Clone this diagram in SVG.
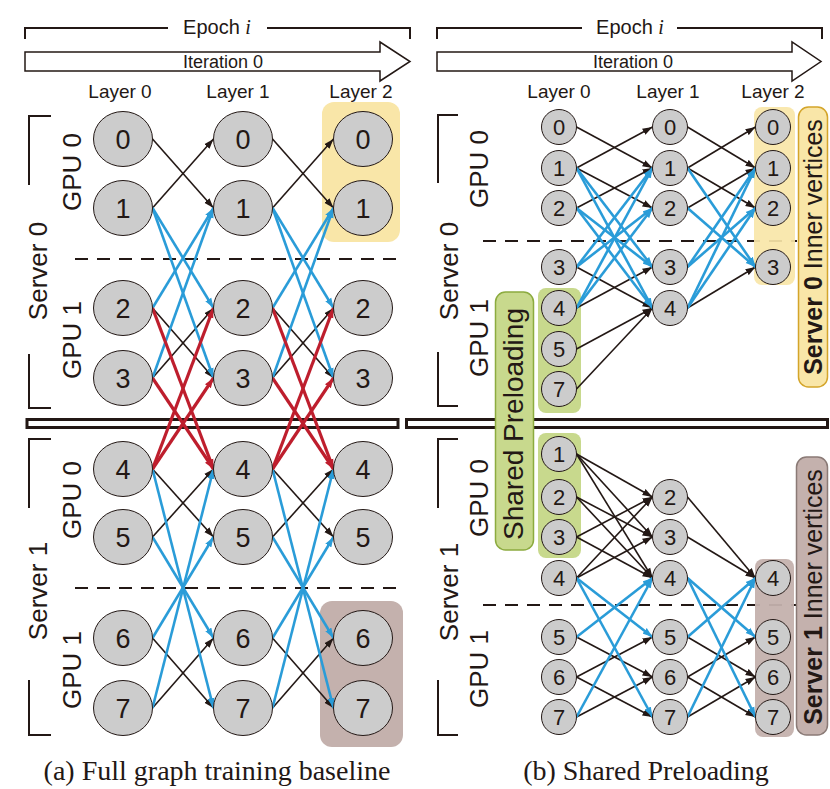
<svg xmlns="http://www.w3.org/2000/svg" width="830" height="789" viewBox="0 0 830 789">
<defs>
<style>
.t{font-family:"Liberation Sans",Arial,sans-serif;fill:#231815}
.cap{font-family:"Liberation Serif","Times New Roman",serif;font-size:28px;fill:#231815;text-anchor:middle}
.nl{fill:#cccccc;stroke:#231815;stroke-width:1}
.nt{font-family:"Liberation Sans",Arial,sans-serif;font-size:27px;fill:#231815;text-anchor:middle}
.ns{font-family:"Liberation Sans",Arial,sans-serif;font-size:22px;fill:#231815;text-anchor:middle}
.bk{stroke:#231815;stroke-width:1.6;fill:none;marker-end:url(#ak)}
.bl{stroke:#2a9cd8;stroke-width:2.6;fill:none;marker-end:url(#ab)}
.rd{stroke:#be1e2d;stroke-width:3.2;fill:none;marker-end:url(#ar)}
.br{stroke:#231815;stroke-width:2;fill:none}
.dash{stroke:#231815;stroke-width:2;stroke-dasharray:13 9;fill:none}
.lab{font-family:"Liberation Sans",Arial,sans-serif;font-size:26px;fill:#231815;text-anchor:middle}
.lay{font-family:"Liberation Sans",Arial,sans-serif;font-size:19px;fill:#231815;text-anchor:middle}
</style>
<marker id="ak" markerUnits="userSpaceOnUse" markerWidth="10" markerHeight="8" refX="10" refY="4" orient="auto"><path d="M0,0.5 L10,4 L0,7.5 z" fill="#231815"/></marker>
<marker id="ab" markerUnits="userSpaceOnUse" markerWidth="10" markerHeight="8" refX="10" refY="4" orient="auto"><path d="M0,0.5 L10,4 L0,7.5 z" fill="#2a9cd8"/></marker>
<marker id="ar" markerUnits="userSpaceOnUse" markerWidth="10" markerHeight="8" refX="10" refY="4" orient="auto"><path d="M0,0.5 L10,4 L0,7.5 z" fill="#be1e2d"/></marker>
</defs>
<rect width="830" height="789" fill="#ffffff"/>

<g id="header-left">
<polyline class="br" points="25,39 25,28 168,28" stroke-width="2.5"/>
<polyline class="br" points="267,28 410,28 410,39" stroke-width="2.5"/>
<text class="t" x="217" y="34" font-size="20" text-anchor="middle">Epoch <tspan font-family="Liberation Serif,serif" font-style="italic">i</tspan></text>
<polygon points="25,52 380,52 380,42 410,61.5 380,81 380,71 25,71" fill="#fff" stroke="#231815" stroke-width="1.5"/>
<text class="t" x="223" y="68" font-size="18" text-anchor="middle">Iteration 0</text>
<text class="lay" x="120" y="98">Layer 0</text>
<text class="lay" x="238" y="98">Layer 1</text>
<text class="lay" x="361" y="98">Layer 2</text>
</g>
<g id="header-right">
<polyline class="br" points="437,39 437,28 582,28" stroke-width="2.5"/>
<polyline class="br" points="677,28 822,28 822,39" stroke-width="2.5"/>
<text class="t" x="630" y="34" font-size="20" text-anchor="middle">Epoch <tspan font-family="Liberation Serif,serif" font-style="italic">i</tspan></text>
<polygon points="437,52 792,52 792,42 821,61.5 792,81 792,71 437,71" fill="#fff" stroke="#231815" stroke-width="1.5"/>
<text class="t" x="633" y="68" font-size="18" text-anchor="middle">Iteration 0</text>
<text class="lay" x="559" y="98">Layer 0</text>
<text class="lay" x="668" y="98">Layer 1</text>
<text class="lay" x="773" y="98">Layer 2</text>
</g>

<g id="left-highlights">
<rect x="322" y="102" width="78" height="140" rx="12" fill="#f9e6a8"/>
<rect x="320" y="601" width="83" height="146" rx="12" fill="#c4b1ad"/>
</g>
<g id="left-separators">
<line class="dash" x1="75" y1="259" x2="396" y2="259"/>
<line class="dash" x1="75" y1="588" x2="396" y2="588"/>
<rect x="27" y="419.5" width="371" height="8" fill="#fff" stroke="#231815" stroke-width="3"/>
</g>
<g id="left-labels">
<polyline class="br" points="51,116 29,116 29,185"/>
<polyline class="br" points="29,354 29,408 51,408"/>
<polyline class="br" points="51,439 29,439 29,508"/>
<polyline class="br" points="29,680 29,735 51,735"/>
<text class="lab" transform="translate(47,271) rotate(-90)">Server 0</text>
<text class="lab" transform="translate(47,591) rotate(-90)">Server 1</text>
<text class="lab" transform="translate(81,172) rotate(-90)">GPU 0</text>
<text class="lab" transform="translate(81,340) rotate(-90)">GPU 1</text>
<text class="lab" transform="translate(81,500) rotate(-90)">GPU 0</text>
<text class="lab" transform="translate(81,670) rotate(-90)">GPU 1</text>
</g>

<g id="right-separators">
<line class="dash" x1="483" y1="241" x2="797" y2="241" stroke-dasharray="12 10"/>
<line class="dash" x1="483" y1="605" x2="797" y2="605" stroke-dasharray="12 10"/>
<rect x="406.5" y="419.5" width="421" height="8" fill="#fff" stroke="#231815" stroke-width="3"/>
</g>
<g id="right-highlights">
<rect x="754" y="107" width="41" height="178" rx="8" fill="#f9e6a8" fill-opacity="0.92"/>
<rect x="755" y="559" width="39" height="178" rx="8" fill="#c4b1ad" fill-opacity="0.95"/>
<rect x="538" y="288" width="43" height="125" rx="8" fill="#c8d98d"/>
<rect x="538" y="433" width="43" height="125" rx="8" fill="#c8d98d"/>
</g>
<g id="shared-preloading">
<rect x="495.5" y="292" width="38" height="258" rx="10" fill="#c8d98d" stroke="#8cab3f" stroke-width="1.5"/>
<text class="t" font-size="28" text-anchor="middle" transform="translate(523,424) rotate(-90)">Shared Preloading</text>
</g>
<g id="server0-inner">
<rect x="798.5" y="107" width="29" height="280" rx="10" fill="#f9e6a8" stroke="#d4a52a" stroke-width="1.5"/>
<text class="t" font-size="25" text-anchor="middle" transform="translate(822,247) rotate(-90)"><tspan font-weight="bold">Server 0</tspan> Inner vertices</text>
</g>
<g id="server1-inner">
<rect x="796.5" y="457" width="31" height="278" rx="10" fill="#c4b1ad" stroke="#8a7a76" stroke-width="1.5"/>
<text class="t" font-size="25" text-anchor="middle" transform="translate(822,597) rotate(-90)"><tspan font-weight="bold">Server 1</tspan> Inner vertices</text>
</g>
<g id="right-labels">
<polyline class="br" points="458,115 438,115 438,183"/>
<polyline class="br" points="438,352 438,406 458,406"/>
<polyline class="br" points="458,439 438,439 438,508"/>
<polyline class="br" points="438,680 438,735 458,735"/>
<text class="lab" transform="translate(458,271) rotate(-90)">Server 0</text>
<text class="lab" transform="translate(458,592) rotate(-90)">Server 1</text>
<text class="lab" transform="translate(488,169) rotate(-90)">GPU 0</text>
<text class="lab" transform="translate(488,338) rotate(-90)">GPU 1</text>
<text class="lab" transform="translate(488,498) rotate(-90)">GPU 0</text>
<text class="lab" transform="translate(488,669) rotate(-90)">GPU 1</text>
</g>

<g id="connectors">
<line class="bk" x1="152.5" y1="139" x2="213.5" y2="208"/>
<line class="bk" x1="152.5" y1="208" x2="213.5" y2="139"/>
<line class="bk" x1="152.5" y1="308" x2="213.5" y2="378"/>
<line class="bk" x1="152.5" y1="378" x2="213.5" y2="308"/>
<line class="bk" x1="152.5" y1="469" x2="213.5" y2="537"/>
<line class="bk" x1="152.5" y1="537" x2="213.5" y2="469"/>
<line class="bk" x1="152.5" y1="638" x2="213.5" y2="708"/>
<line class="bk" x1="152.5" y1="708" x2="213.5" y2="638"/>
<line class="bk" x1="272.5" y1="139" x2="333.5" y2="208"/>
<line class="bk" x1="272.5" y1="208" x2="333.5" y2="139"/>
<line class="bk" x1="272.5" y1="308" x2="333.5" y2="378"/>
<line class="bk" x1="272.5" y1="378" x2="333.5" y2="308"/>
<line class="bk" x1="272.5" y1="469" x2="333.5" y2="537"/>
<line class="bk" x1="272.5" y1="537" x2="333.5" y2="469"/>
<line class="bk" x1="272.5" y1="638" x2="333.5" y2="708"/>
<line class="bk" x1="272.5" y1="708" x2="333.5" y2="638"/>
<line class="bl" x1="152.5" y1="208" x2="213.5" y2="308"/>
<line class="bl" x1="152.5" y1="208" x2="213.5" y2="378"/>
<line class="bl" x1="152.5" y1="308" x2="213.5" y2="208"/>
<line class="bl" x1="152.5" y1="378" x2="213.5" y2="208"/>
<line class="bl" x1="152.5" y1="469" x2="213.5" y2="708"/>
<line class="bl" x1="152.5" y1="537" x2="213.5" y2="638"/>
<line class="bl" x1="152.5" y1="638" x2="213.5" y2="537"/>
<line class="bl" x1="152.5" y1="708" x2="213.5" y2="469"/>
<line class="bl" x1="272.5" y1="208" x2="333.5" y2="308"/>
<line class="bl" x1="272.5" y1="208" x2="333.5" y2="378"/>
<line class="bl" x1="272.5" y1="308" x2="333.5" y2="208"/>
<line class="bl" x1="272.5" y1="378" x2="333.5" y2="208"/>
<line class="bl" x1="272.5" y1="469" x2="333.5" y2="708"/>
<line class="bl" x1="272.5" y1="537" x2="333.5" y2="638"/>
<line class="bl" x1="272.5" y1="638" x2="333.5" y2="537"/>
<line class="bl" x1="272.5" y1="708" x2="333.5" y2="469"/>
<line class="rd" x1="152.5" y1="308" x2="213.5" y2="469"/>
<line class="rd" x1="152.5" y1="378" x2="213.5" y2="469"/>
<line class="rd" x1="152.5" y1="469" x2="213.5" y2="308"/>
<line class="rd" x1="152.5" y1="469" x2="213.5" y2="378"/>
<line class="rd" x1="272.5" y1="308" x2="333.5" y2="469"/>
<line class="rd" x1="272.5" y1="378" x2="333.5" y2="469"/>
<line class="rd" x1="272.5" y1="469" x2="333.5" y2="308"/>
<line class="rd" x1="272.5" y1="469" x2="333.5" y2="378"/>

<line class="bk" x1="576.5" y1="127" x2="652.5" y2="168"/>
<line class="bk" x1="576.5" y1="168" x2="652.5" y2="127"/>
<line class="bk" x1="576.5" y1="168" x2="652.5" y2="208"/>
<line class="bk" x1="576.5" y1="208" x2="652.5" y2="168"/>
<line class="bk" x1="576.5" y1="267" x2="652.5" y2="308"/>
<line class="bk" x1="576.5" y1="308" x2="652.5" y2="267"/>
<line class="bk" x1="576.5" y1="349" x2="652.5" y2="308"/>
<line class="bk" x1="576.5" y1="389" x2="652.5" y2="308"/>
<line class="bl" x1="576.5" y1="168" x2="652.5" y2="267"/>
<line class="bl" x1="576.5" y1="168" x2="652.5" y2="308"/>
<line class="bl" x1="576.5" y1="208" x2="652.5" y2="267"/>
<line class="bl" x1="576.5" y1="208" x2="652.5" y2="308"/>
<line class="bl" x1="576.5" y1="267" x2="652.5" y2="168"/>
<line class="bl" x1="576.5" y1="267" x2="652.5" y2="208"/>
<line class="bl" x1="576.5" y1="308" x2="652.5" y2="168"/>
<line class="bl" x1="576.5" y1="308" x2="652.5" y2="208"/>
<line class="bk" x1="687.5" y1="127" x2="755.5" y2="168"/>
<line class="bk" x1="687.5" y1="168" x2="755.5" y2="127"/>
<line class="bk" x1="687.5" y1="168" x2="755.5" y2="208"/>
<line class="bk" x1="687.5" y1="208" x2="755.5" y2="168"/>
<line class="bk" x1="687.5" y1="308" x2="755.5" y2="267"/>
<line class="bl" x1="687.5" y1="168" x2="755.5" y2="267"/>
<line class="bl" x1="687.5" y1="208" x2="755.5" y2="267"/>
<line class="bl" x1="687.5" y1="267" x2="755.5" y2="168"/>
<line class="bl" x1="687.5" y1="267" x2="755.5" y2="208"/>
<line class="bl" x1="687.5" y1="308" x2="755.5" y2="168"/>
<line class="bl" x1="687.5" y1="308" x2="755.5" y2="208"/>
<line class="bk" x1="576.5" y1="454" x2="652.5" y2="497"/>
<line class="bk" x1="576.5" y1="454" x2="652.5" y2="537"/>
<line class="bk" x1="576.5" y1="454" x2="652.5" y2="578"/>
<line class="bk" x1="576.5" y1="497" x2="652.5" y2="537"/>
<line class="bk" x1="576.5" y1="497" x2="652.5" y2="578"/>
<line class="bk" x1="576.5" y1="537" x2="652.5" y2="497"/>
<line class="bk" x1="576.5" y1="537" x2="652.5" y2="578"/>
<line class="bk" x1="576.5" y1="578" x2="652.5" y2="497"/>
<line class="bk" x1="576.5" y1="578" x2="652.5" y2="537"/>
<line class="bk" x1="576.5" y1="637" x2="652.5" y2="677"/>
<line class="bk" x1="576.5" y1="677" x2="652.5" y2="637"/>
<line class="bk" x1="576.5" y1="677" x2="652.5" y2="717"/>
<line class="bk" x1="576.5" y1="717" x2="652.5" y2="677"/>
<line class="bl" x1="576.5" y1="578" x2="652.5" y2="637"/>
<line class="bl" x1="576.5" y1="578" x2="652.5" y2="717"/>
<line class="bl" x1="576.5" y1="637" x2="652.5" y2="578"/>
<line class="bl" x1="576.5" y1="717" x2="652.5" y2="578"/>
<line class="bk" x1="687.5" y1="497" x2="755.5" y2="578"/>
<line class="bk" x1="687.5" y1="537" x2="755.5" y2="578"/>
<line class="bk" x1="687.5" y1="637" x2="755.5" y2="677"/>
<line class="bk" x1="687.5" y1="677" x2="755.5" y2="637"/>
<line class="bk" x1="687.5" y1="677" x2="755.5" y2="717"/>
<line class="bk" x1="687.5" y1="717" x2="755.5" y2="677"/>
<line class="bl" x1="687.5" y1="578" x2="755.5" y2="637"/>
<line class="bl" x1="687.5" y1="578" x2="755.5" y2="717"/>
<line class="bl" x1="687.5" y1="637" x2="755.5" y2="578"/>
<line class="bl" x1="687.5" y1="717" x2="755.5" y2="578"/>
</g>

<g id="L-l0-0"><ellipse class="nl" cx="123" cy="139" rx="29.5" ry="27.5"/><text class="nt" x="123" y="149">0</text></g>
<g id="L-l0-1"><ellipse class="nl" cx="123" cy="208" rx="29.5" ry="27.5"/><text class="nt" x="123" y="218">1</text></g>
<g id="L-l0-2"><ellipse class="nl" cx="123" cy="308" rx="29.5" ry="27.5"/><text class="nt" x="123" y="318">2</text></g>
<g id="L-l0-3"><ellipse class="nl" cx="123" cy="378" rx="29.5" ry="27.5"/><text class="nt" x="123" y="388">3</text></g>
<g id="L-l0-4"><ellipse class="nl" cx="123" cy="469" rx="29.5" ry="27.5"/><text class="nt" x="123" y="479">4</text></g>
<g id="L-l0-5"><ellipse class="nl" cx="123" cy="537" rx="29.5" ry="27.5"/><text class="nt" x="123" y="547">5</text></g>
<g id="L-l0-6"><ellipse class="nl" cx="123" cy="638" rx="29.5" ry="27.5"/><text class="nt" x="123" y="648">6</text></g>
<g id="L-l0-7"><ellipse class="nl" cx="123" cy="708" rx="29.5" ry="27.5"/><text class="nt" x="123" y="718">7</text></g>
<g id="L-l1-0"><ellipse class="nl" cx="243" cy="139" rx="29.5" ry="27.5"/><text class="nt" x="243" y="149">0</text></g>
<g id="L-l1-1"><ellipse class="nl" cx="243" cy="208" rx="29.5" ry="27.5"/><text class="nt" x="243" y="218">1</text></g>
<g id="L-l1-2"><ellipse class="nl" cx="243" cy="308" rx="29.5" ry="27.5"/><text class="nt" x="243" y="318">2</text></g>
<g id="L-l1-3"><ellipse class="nl" cx="243" cy="378" rx="29.5" ry="27.5"/><text class="nt" x="243" y="388">3</text></g>
<g id="L-l1-4"><ellipse class="nl" cx="243" cy="469" rx="29.5" ry="27.5"/><text class="nt" x="243" y="479">4</text></g>
<g id="L-l1-5"><ellipse class="nl" cx="243" cy="537" rx="29.5" ry="27.5"/><text class="nt" x="243" y="547">5</text></g>
<g id="L-l1-6"><ellipse class="nl" cx="243" cy="638" rx="29.5" ry="27.5"/><text class="nt" x="243" y="648">6</text></g>
<g id="L-l1-7"><ellipse class="nl" cx="243" cy="708" rx="29.5" ry="27.5"/><text class="nt" x="243" y="718">7</text></g>
<g id="L-l2-0"><ellipse class="nl" cx="363" cy="139" rx="29.5" ry="27.5"/><text class="nt" x="363" y="149">0</text></g>
<g id="L-l2-1"><ellipse class="nl" cx="363" cy="208" rx="29.5" ry="27.5"/><text class="nt" x="363" y="218">1</text></g>
<g id="L-l2-2"><ellipse class="nl" cx="363" cy="308" rx="29.5" ry="27.5"/><text class="nt" x="363" y="318">2</text></g>
<g id="L-l2-3"><ellipse class="nl" cx="363" cy="378" rx="29.5" ry="27.5"/><text class="nt" x="363" y="388">3</text></g>
<g id="L-l2-4"><ellipse class="nl" cx="363" cy="469" rx="29.5" ry="27.5"/><text class="nt" x="363" y="479">4</text></g>
<g id="L-l2-5"><ellipse class="nl" cx="363" cy="537" rx="29.5" ry="27.5"/><text class="nt" x="363" y="547">5</text></g>
<g id="L-l2-6"><ellipse class="nl" cx="363" cy="638" rx="29.5" ry="27.5"/><text class="nt" x="363" y="648">6</text></g>
<g id="L-l2-7"><ellipse class="nl" cx="363" cy="708" rx="29.5" ry="27.5"/><text class="nt" x="363" y="718">7</text></g>

<g id="R0-l0-0"><circle class="nl" cx="559" cy="127" r="17.5"/><text class="ns" x="559" y="135">0</text></g>
<g id="R0-l0-1"><circle class="nl" cx="559" cy="168" r="17.5"/><text class="ns" x="559" y="176">1</text></g>
<g id="R0-l0-2"><circle class="nl" cx="559" cy="208" r="17.5"/><text class="ns" x="559" y="216">2</text></g>
<g id="R0-l0-3"><circle class="nl" cx="559" cy="267" r="17.5"/><text class="ns" x="559" y="275">3</text></g>
<g id="R0-l0-4"><circle class="nl" cx="559" cy="308" r="17.5"/><text class="ns" x="559" y="316">4</text></g>
<g id="R0-l0-5"><circle class="nl" cx="559" cy="349" r="17.5"/><text class="ns" x="559" y="357">5</text></g>
<g id="R0-l0-7"><circle class="nl" cx="559" cy="389" r="17.5"/><text class="ns" x="559" y="397">7</text></g>
<g id="R0-l1-0"><circle class="nl" cx="670" cy="127" r="17.5"/><text class="ns" x="670" y="135">0</text></g>
<g id="R0-l1-1"><circle class="nl" cx="670" cy="168" r="17.5"/><text class="ns" x="670" y="176">1</text></g>
<g id="R0-l1-2"><circle class="nl" cx="670" cy="208" r="17.5"/><text class="ns" x="670" y="216">2</text></g>
<g id="R0-l1-3"><circle class="nl" cx="670" cy="267" r="17.5"/><text class="ns" x="670" y="275">3</text></g>
<g id="R0-l1-4"><circle class="nl" cx="670" cy="308" r="17.5"/><text class="ns" x="670" y="316">4</text></g>
<g id="R0-l2-0"><circle class="nl" cx="773" cy="127" r="17.5"/><text class="ns" x="773" y="135">0</text></g>
<g id="R0-l2-1"><circle class="nl" cx="773" cy="168" r="17.5"/><text class="ns" x="773" y="176">1</text></g>
<g id="R0-l2-2"><circle class="nl" cx="773" cy="208" r="17.5"/><text class="ns" x="773" y="216">2</text></g>
<g id="R0-l2-3"><circle class="nl" cx="773" cy="267" r="17.5"/><text class="ns" x="773" y="275">3</text></g>

<g id="R1-l0-1"><circle class="nl" cx="559" cy="454" r="17.5"/><text class="ns" x="559" y="462">1</text></g>
<g id="R1-l0-2"><circle class="nl" cx="559" cy="497" r="17.5"/><text class="ns" x="559" y="505">2</text></g>
<g id="R1-l0-3"><circle class="nl" cx="559" cy="537" r="17.5"/><text class="ns" x="559" y="545">3</text></g>
<g id="R1-l0-4"><circle class="nl" cx="559" cy="578" r="17.5"/><text class="ns" x="559" y="586">4</text></g>
<g id="R1-l0-5"><circle class="nl" cx="559" cy="637" r="17.5"/><text class="ns" x="559" y="645">5</text></g>
<g id="R1-l0-6"><circle class="nl" cx="559" cy="677" r="17.5"/><text class="ns" x="559" y="685">6</text></g>
<g id="R1-l0-7"><circle class="nl" cx="559" cy="717" r="17.5"/><text class="ns" x="559" y="725">7</text></g>
<g id="R1-l1-2"><circle class="nl" cx="670" cy="497" r="17.5"/><text class="ns" x="670" y="505">2</text></g>
<g id="R1-l1-3"><circle class="nl" cx="670" cy="537" r="17.5"/><text class="ns" x="670" y="545">3</text></g>
<g id="R1-l1-4"><circle class="nl" cx="670" cy="578" r="17.5"/><text class="ns" x="670" y="586">4</text></g>
<g id="R1-l1-5"><circle class="nl" cx="670" cy="637" r="17.5"/><text class="ns" x="670" y="645">5</text></g>
<g id="R1-l1-6"><circle class="nl" cx="670" cy="677" r="17.5"/><text class="ns" x="670" y="685">6</text></g>
<g id="R1-l1-7"><circle class="nl" cx="670" cy="717" r="17.5"/><text class="ns" x="670" y="725">7</text></g>
<g id="R1-l2-4"><circle class="nl" cx="773" cy="578" r="17.5"/><text class="ns" x="773" y="586">4</text></g>
<g id="R1-l2-5"><circle class="nl" cx="773" cy="637" r="17.5"/><text class="ns" x="773" y="645">5</text></g>
<g id="R1-l2-6"><circle class="nl" cx="773" cy="677" r="17.5"/><text class="ns" x="773" y="685">6</text></g>
<g id="R1-l2-7"><circle class="nl" cx="773" cy="717" r="17.5"/><text class="ns" x="773" y="725">7</text></g>

<text class="cap" x="217" y="780">(a) Full graph training baseline</text>
<text class="cap" x="646" y="780">(b) Shared Preloading</text>
</svg>
